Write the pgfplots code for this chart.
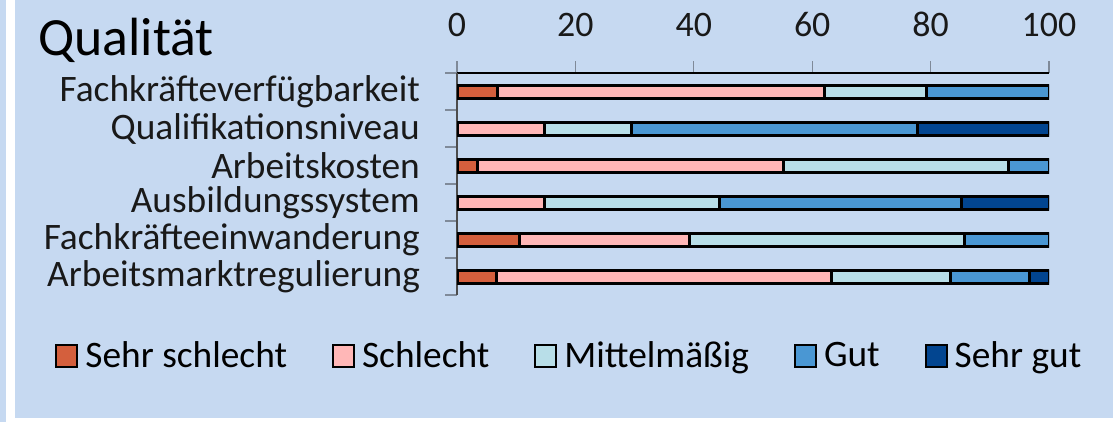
\documentclass[border=0pt]{standalone}
\usepackage{pgfplots}
\pgfplotsset{compat=1.18}
\usepackage{fontspec}
\setmainfont{Carlito}
\definecolor{bgc}{HTML}{C6D9F1}
\definecolor{c1}{HTML}{D45F3D}
\definecolor{c2}{HTML}{FFB7B7}
\definecolor{c3}{HTML}{B8DEE8}
\definecolor{c4}{HTML}{4A97D3}
\definecolor{c5}{HTML}{024590}
\definecolor{axg}{HTML}{7F8A99}
\begin{document}
\begin{tikzpicture}
\fill[bgc] (0bp,0bp) rectangle (1113bp,422bp);
\fill[white] (6bp,0bp) rectangle (15bp,422bp);
\fill[white] (6bp,0bp) rectangle (1113bp,4bp);
\node[anchor=base west,inner sep=0pt,font=\fontsize{54}{64}\selectfont] at (38bp,366bp) {Qualität};
\begin{axis}[
  at={(457bp,127bp)}, anchor=south west,
  scale only axis, width=592bp, height=222bp,
  xbar stacked, bar width=13bp,
  xmin=0, xmax=100, ymin=0.5, ymax=6.5, y dir=reverse,
  axis x line*=top, axis y line*=left,
  xtick={0,20,40,60,80,100},
  ytick={1,2,3,4,5,6},
  yticklabels={Fachkräfteverfügbarkeit,Qualifikationsniveau,Arbeitskosten,Ausbildungssystem,Fachkräfteeinwanderung,Arbeitsmarktregulierung},
  minor ytick={0.5,1.5,2.5,3.5,4.5,5.5,6.5},
  tick align=outside, major tick length=12bp, minor tick length=12bp,
  major y tick style={draw=none},
  minor y tick style={draw=axg,line width=1.2bp},
  major x tick style={draw=axg,line width=1.2bp},
  x axis line style={draw=black,line width=1.2bp},
  y axis line style={draw=black!70,line width=1.2bp},
  /pgf/number format/assume math mode=true,
  tick label style={text=black!90},
  yticklabel style={font=\fontsize{37.5}{44}\selectfont, inner sep=0pt, xshift=-25bp},
  xticklabel style={font=\fontsize{36}{43}\selectfont, inner sep=0pt, yshift=24bp},
  every axis plot/.append style={draw=black, line width=3bp},
  legend style={at={(0.189,-0.270)}, anchor=center, draw=none, fill=none,
    font=\fontsize{37.5}{44}\selectfont, legend columns=5,
    /tikz/every even column/.append style={column sep=44bp},
    /tikz/every odd column/.append style={column sep=6bp},
    inner sep=0pt, nodes={inner sep=1bp}},
  legend image code/.code={\draw[#1,line width=2bp,draw=black] (0bp,-12bp) rectangle (21bp,10bp);},
]
\addplot[fill=c1] coordinates {(6.8,1) (0,2) (3.4,3) (0,4) (10.6,5) (6.6,6)};
\addplot[fill=c2] coordinates {(55.2,1) (14.7,2) (51.7,3) (14.7,4) (28.6,5) (56.7,6)};
\addplot[fill=c3] coordinates {(17.3,1) (14.8,2) (38.0,3) (29.7,4) (46.5,5) (20.0,6)};
\addplot[fill=c4] coordinates {(20.7,1) (48.3,2) (6.9,3) (40.8,4) (14.3,5) (13.4,6)};
\addplot[fill=c5] coordinates {(0,1) (22.2,2) (0,3) (14.8,4) (0,5) (3.3,6)};
\legend{Sehr schlecht,Schlecht,Mittelmäßig,Gut,Sehr gut}
\end{axis}
\pgfresetboundingbox
\path (0bp,0bp) rectangle (1113bp,422bp);
\end{tikzpicture}
\end{document}
